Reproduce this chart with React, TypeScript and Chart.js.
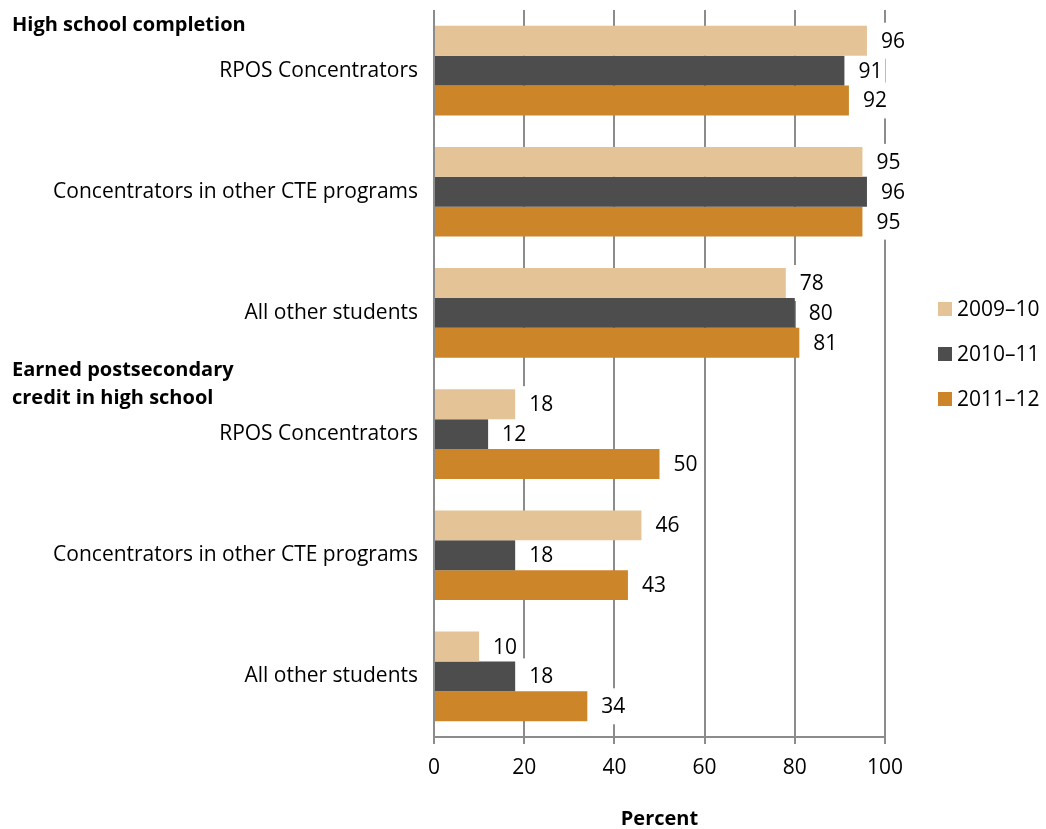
import React, { useEffect, useRef } from "react";
import { Chart, registerables } from "chart.js";

Chart.register(...registerables);

// Outcome categories (two groups of three student types)
const categories = [
  "RPOS Concentrators",
  "Concentrators in other CTE programs",
  "All other students",
  "RPOS Concentrators",
  "Concentrators in other CTE programs",
  "All other students",
];

const seriesNames = ["2009–10", "2010–11", "2011–12"];
const values2009 = [96, 95, 78, 18, 46, 10];
const values2010 = [91, 96, 80, 12, 18, 18];
const values2011 = [92, 95, 81, 50, 43, 34];
const seriesColors = ["#E4C496", "#4D4D4D", "#CC8529"];

const xTicks = [0, 20, 40, 60, 80, 100];
const groupHeaders = [
  { before: 0, lines: ["High school completion"] },
  { before: 3, lines: ["Earned postsecondary", "credit in high school"] },
];

const FONT = "'Open Sans', sans-serif";
const GRID = "#8C8C8C";

// Value labels: white backing boxes go under the bars (they hide gridlines),
// the text itself is drawn on top.
const valueLabels = {
  id: "valueLabels",
  beforeDatasetsDraw(chart: any) {
    const ctx = chart.ctx;
    ctx.save();
    ctx.font = `21px ${FONT}`;
    chart.data.datasets.forEach((ds: any, di: number) => {
      const meta = chart.getDatasetMeta(di);
      meta.data.forEach((bar: any, i: number) => {
        const w = ctx.measureText(String(ds.data[i])).width;
        ctx.fillStyle = "#FFFFFF";
        ctx.fillRect(bar.x + 4, bar.y - 18, w + 13, 36);
      });
    });
    ctx.restore();
  },
  afterDatasetsDraw(chart: any) {
    const ctx = chart.ctx;
    ctx.save();
    ctx.font = `21px ${FONT}`;
    ctx.fillStyle = "#000000";
    ctx.textAlign = "left";
    ctx.textBaseline = "middle";
    chart.data.datasets.forEach((ds: any, di: number) => {
      const meta = chart.getDatasetMeta(di);
      meta.data.forEach((bar: any, i: number) => {
        ctx.fillText(String(ds.data[i]), bar.x + 14, bar.y + 1);
      });
    });
    ctx.restore();
  },
};

// Bold group headings on the left and the series key on the right
const headerGaps = [45, 36];
const annotations = {
  id: "annotations",
  afterDraw(chart: any) {
    const ctx = chart.ctx;
    const y = chart.scales.y;
    ctx.save();
    ctx.fillStyle = "#000000";
    ctx.textBaseline = "middle";
    ctx.textAlign = "left";
    ctx.font = `bold 20px ${FONT}`;
    groupHeaders.forEach((g, gi) => {
      const base = y.getPixelForValue(g.before);
      const n = g.lines.length;
      g.lines.forEach((line, k) => {
        ctx.fillText(line, 12, base - headerGaps[gi] - (n - 1 - k) * 28);
      });
    });

    ctx.font = `21px ${FONT}`;
    chart.data.datasets.forEach((ds: any, i: number) => {
      const cy = 309 + i * 45;
      ctx.fillStyle = ds.backgroundColor;
      ctx.fillRect(938, cy - 7, 14, 14);
      ctx.fillStyle = "#000000";
      ctx.fillText(ds.label, 957, cy + 1);
    });
    ctx.restore();
  },
};

export default function App() {
  const canvasRef = useRef<HTMLCanvasElement | null>(null);

  useEffect(() => {
    if (!canvasRef.current) return;
    const seriesValues = [values2009, values2010, values2011];
    const chart = new Chart(canvasRef.current, {
      type: "bar",
      data: {
        labels: categories,
        datasets: seriesNames.map((name, i) => ({
          label: name,
          data: seriesValues[i],
          backgroundColor: seriesColors[i],
          borderWidth: 0,
          barPercentage: 1,
          categoryPercentage: 0.74,
        })),
      },
      options: {
        indexAxis: "y",
        responsive: false,
        animation: false,
        layout: { padding: { top: 10, right: 161, left: 0, bottom: 0 } },
        plugins: {
          legend: { display: false },
          tooltip: { enabled: false },
        },
        scales: {
          x: {
            min: 0,
            max: 100,
            afterBuildTicks: (scale: any) => {
              scale.ticks = xTicks.map((v) => ({ value: v }));
            },
            afterFit: (scale: any) => {
              scale.height = 92;
            },
            grid: {
              color: GRID,
              lineWidth: 2,
              drawTicks: true,
              tickLength: 7,
              tickColor: GRID,
            },
            border: { display: true, color: GRID, width: 2 },
            ticks: {
              color: "#000000",
              font: { family: FONT, size: 21 },
              padding: 11,
              maxRotation: 0,
            },
            title: {
              display: true,
              text: "Percent",
              color: "#000000",
              font: { family: FONT, size: 20, weight: "bold" },
              padding: { top: 0, bottom: -2 },
            },
          },
          y: {
            afterFit: (scale: any) => {
              scale.width = 434;
              scale.paddingTop = 0;
              scale.paddingBottom = 0;
            },
            grid: { display: false, drawTicks: false },
            border: { display: false },
            ticks: {
              color: "#000000",
              font: { family: FONT, size: 21 },
              padding: 16,
              autoSkip: false,
            },
          },
        },
      },
      plugins: [valueLabels, annotations],
    });
    return () => chart.destroy();
  }, []);

  return (
    <div style={{ position: "absolute", left: 0, top: 0, width: 1046, height: 829, background: "#FFFFFF" }}>
      <canvas ref={canvasRef} width={1046} height={829} />
    </div>
  );
}
